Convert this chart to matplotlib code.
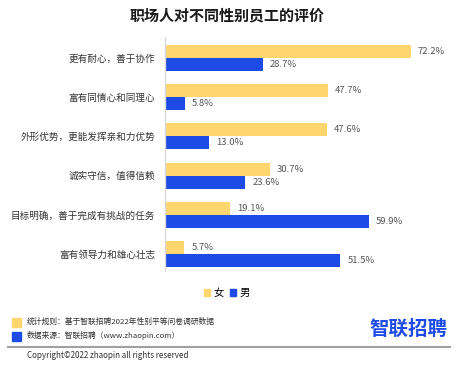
import matplotlib
matplotlib.use("Agg")
import matplotlib.pyplot as plt
from matplotlib.patches import Patch, Rectangle
from matplotlib.lines import Line2D

plt.rcParams['font.family'] = ['Noto Sans CJK SC', 'DejaVu Sans']

title = "职场人对不同性别员工的评价"
categories = ["更有耐心，善于协作", "富有同情心和同理心", "外形优势，更能发挥亲和力优势",
              "诚实守信，值得信赖", "目标明确，善于完成有挑战的任务", "富有领导力和雄心壮志"]
female = [72.2, 47.7, 47.6, 30.7, 19.1, 5.7]
male = [28.7, 5.8, 13.0, 23.6, 59.9, 51.5]
series_names = ["女", "男"]
footer_lines = ["统计规则：基于智联招聘2022年性别平等问卷调研数据",
                "数据来源：智联招聘（www.zhaopin.com）"]
logo = "智联招聘"
copyright_text = "Copyright©2022 zhaopin all rights reserved"

YELLOW = "#FFD66E"
BLUE = "#1E4BE6"

W, H = 460, 375
fig = plt.figure(figsize=(W / 100, H / 100), dpi=100)

def fx(px):
    return px / W

def fy(py):
    return 1 - py / H

ax_left, ax_right, ax_top, ax_bot = 165, 445, 37, 271
ax = fig.add_axes([fx(ax_left), fy(ax_bot), fx(ax_right - ax_left), (ax_bot - ax_top) / H])
px_per_unit = (411 - 165) / 72.2
ax.set_xlim(0, (ax_right - ax_left) / px_per_unit)
spacing = 39.2
ax.set_ylim((ax_bot - 58) / spacing, (ax_top - 58) / spacing)

bh = 13 / spacing
ys = list(range(len(categories)))
ax.barh([y - bh / 2 for y in ys], female, height=bh, color=YELLOW)
ax.barh([y + bh / 2 for y in ys], male, height=bh, color=BLUE)
for y, v in zip(ys, female):
    ax.text(v + 2, y - bh / 2, f"{v:.1f}%", va="center", ha="left", fontsize=6.8, color="#555555")
for y, v in zip(ys, male):
    ax.text(v + 2, y + bh / 2, f"{v:.1f}%", va="center", ha="left", fontsize=6.8, color="#555555")

ax.set_yticks(ys)
ax.set_yticklabels(categories, fontsize=6.9, color="#333333")
ax.tick_params(axis="y", length=0, pad=7)
ax.set_xticks([])
for s in ["top", "right", "bottom"]:
    ax.spines[s].set_visible(False)
ax.spines["left"].set_color("#D9D9D9")
ax.spines["left"].set_linewidth(1.0)

fig.text(fx(227), fy(15), title, ha="center", va="center", fontsize=10.8, fontweight="bold", color="#1a1a1a")

handles = [Patch(color=YELLOW), Patch(color=BLUE)]
fig.legend(handles, series_names, loc="center", bbox_to_anchor=(fx(227), fy(293)), ncol=2,
           frameon=False, fontsize=7.5, handlelength=0.6, handleheight=0.6,
           handletextpad=0.3, columnspacing=0.6, borderpad=0)

# footer
for i, (txt, col) in enumerate(zip(footer_lines, [YELLOW, BLUE])):
    yc = 322 + i * 14
    fig.patches.append(Rectangle((fx(12), fy(yc + 4.5)), fx(9), 9 / H, transform=fig.transFigure, color=col))
    fig.text(fx(27), fy(yc), txt, ha="left", va="center", fontsize=5.6, color="#333333")

fig.text(fx(408), fy(329), logo, ha="center", va="center", fontsize=14, fontweight="bold", color="#1E4BE6")
fig.lines.append(Line2D([fx(8), fx(450)], [fy(347), fy(347)], transform=fig.transFigure, color="#A0A0A0", lw=1.5))
fig.text(fx(27), fy(356), copyright_text, ha="left", va="center", fontsize=5.8, color="#333333")

fig.savefig("out.png", dpi=100, facecolor="white")
